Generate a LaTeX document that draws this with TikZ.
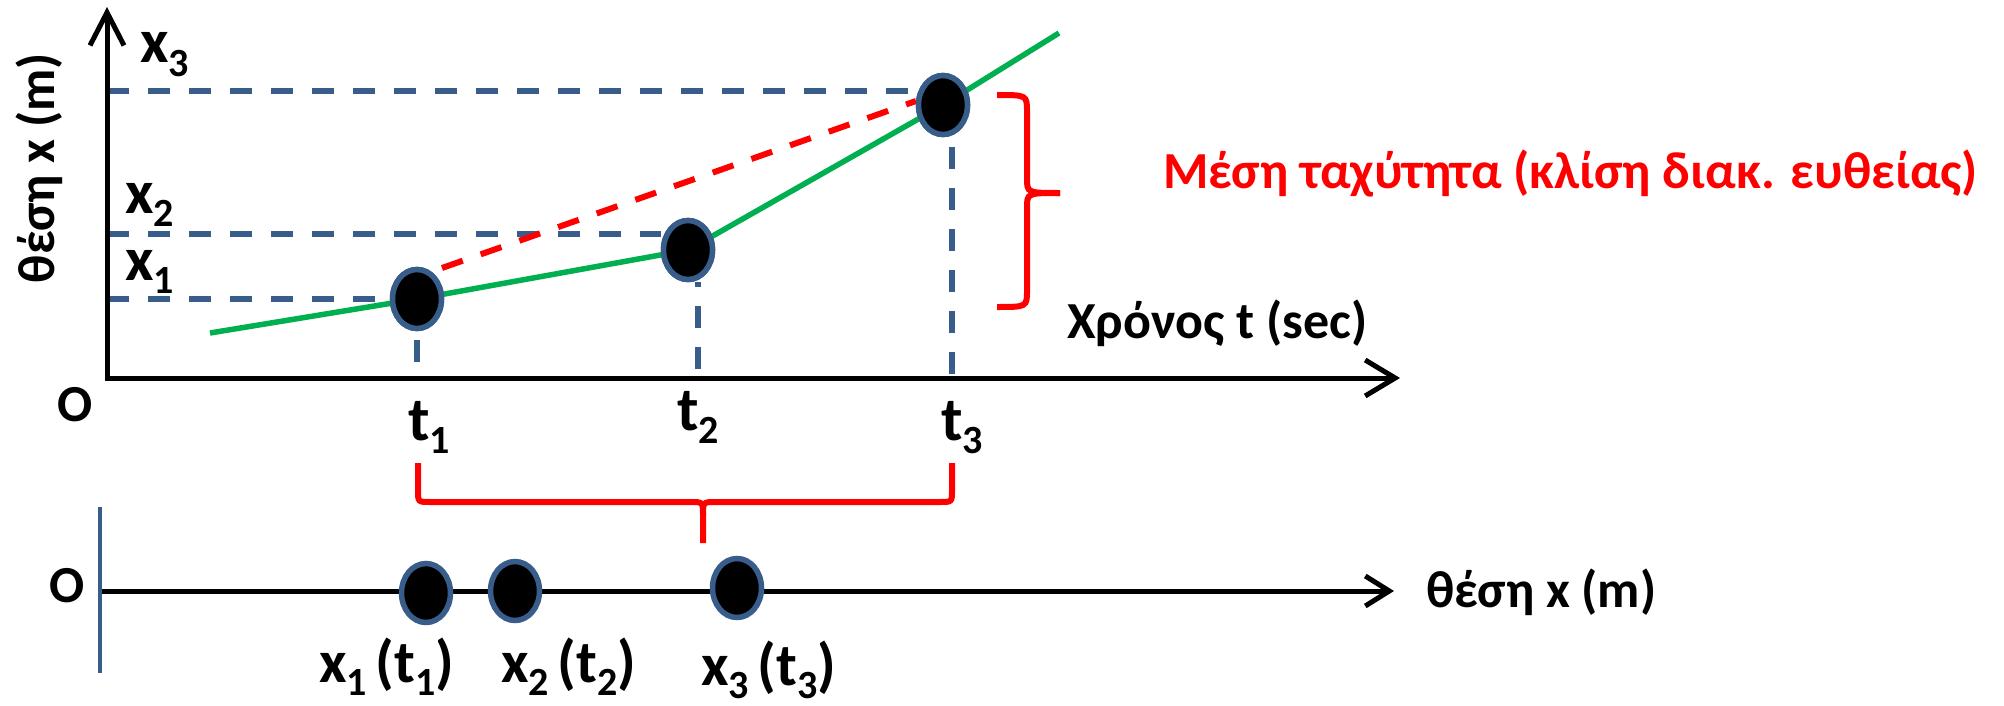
\documentclass[tikz,border=0pt]{standalone}
\usepackage{fontspec}
\setmainfont{Carlito}
\usetikzlibrary{arrows.meta,shapes.geometric,calc}
\definecolor{dblue}{HTML}{385D8A}
\definecolor{pgreen}{HTML}{00B050}
\definecolor{pred}{HTML}{FF0000}
\newcommand\sbs[1]{\raisebox{-0.22em}{\fontsize{40}{44}\selectfont #1}}
\begin{document}
\begin{tikzpicture}[x=1pt,y=-1pt,
  lbl/.style={font=\fontsize{62}{70}\selectfont\bfseries, inner sep=0pt, anchor=base west},
  blbl/.style={font=\fontsize{60}{68}\selectfont\bfseries, inner sep=0pt, anchor=base west},
  txt/.style={font=\fontsize{52}{60}\selectfont\bfseries, inner sep=0pt},
  dotnode/.style={ellipse, draw=dblue, line width=5.5pt, fill=black, minimum width=49pt, minimum height=59pt, inner sep=0pt},
  axisline/.style={line width=5pt, black, line join=miter},
  guide/.style={draw=dblue, line width=5.5pt, dash pattern=on 22pt off 19pt},
  greenline/.style={draw=pgreen, line width=5.5pt},
  reddash/.style={draw=pred, line width=6pt, dash pattern=on 22pt off 19pt},
  bracestyle/.style={draw=pred, line width=6pt},
]
\fill[white] (0,0) rectangle (2004,706);
\useasboundingbox (0,0) rectangle (2004,706);

% ---------- top graph ----------
\coordinate (O) at (107,378);
\coordinate (yend) at (107,7);
\coordinate (xend) at (1400,378);
\coordinate (ya1) at (107,299);
\coordinate (ya2) at (107,234);
\coordinate (ya3) at (107,91);
\coordinate (f1) at (417,378);
\coordinate (f2) at (698,378);
\coordinate (f3) at (952,378);
\coordinate (g0) at (210,333);
\coordinate (g4) at (1059,33);
\coordinate (r1) at (442,268);
\coordinate (r3) at (916,101);

% dot nodes (placed first to get anchors, drawn again on top)
\path (417,299) node[dotnode] (d1) {};
\path (688,250) node[dotnode] (d2) {};
\path (943,105) node[dotnode] (d3) {};

% guide lines
\draw[guide] (ya1) -- (d1);
\draw[guide] (ya2) -- (d2.west |- ya2);
\draw[guide] (ya3) -- ($(d3.west |- ya3)+(-8,0)$);
\draw[guide, dash phase=32pt] (d1.south) -- (f1);
\draw[guide, dash phase=17pt] (d2.south -| f2) -- (f2);
\draw[guide, dash phase=31pt] (d3.south -| f3) -- (f3);

% curve and chord
\draw[greenline] (g0) -- (d1.center) -- (d2.center) -- (d3.center) -- (g4);
\draw[reddash] (r1) -- (r3);

% dots on top
\path (417,299) node[dotnode] {};
\path (688,250) node[dotnode] {};
\path (943,105) node[dotnode] {};

% axes
\draw[axisline, {Straight Barb[length=33pt,width=34pt]}-{Straight Barb[length=30pt,width=36pt]}] (yend) -- (O) -- (xend);

% labels
\node[txt] (o1) at (75,405) {O};
\node[txt, rotate=90] (ylab) at (39,168) {θέση x (m)};
\node[lbl] (lx3) at (140,63) {x\sbs{3}};
\node[lbl] (lx2) at (125,213) {x\sbs{2}};
\node[lbl] (lx1) at (125,280) {x\sbs{1}};
\node[lbl] (lt1) at (408,440) {t\sbs{1}};
\node[lbl] (lt2) at (677,430) {t\sbs{2}};
\node[lbl] (lt3) at (941,440) {t\sbs{3}};
\node[txt, anchor=base west] (xlab) at (1067,338) {Χρόνος t (sec)};
\node[txt, anchor=base west, text=pred] (vlab) at (1163,188) {Μέση ταχύτητα (κλίση διακ. ευθείας)};

% right brace
\draw[bracestyle] (997,95) .. controls (1027,95) .. (1027,112) -- (1027,178)
  .. controls (1027,193) .. (1060,193);
\draw[bracestyle] (1060,193) .. controls (1027,193) .. (1027,208) -- (1027,290)
  .. controls (1027,307) .. (997,307);

% ---------- bottom line ----------
\coordinate (bO) at (102,591);
\coordinate (bend) at (1394,591);
\coordinate (bv1) at (100,507);
\coordinate (bv2) at (100,673);
\draw[line width=5pt, -{Straight Barb[length=24pt,width=30pt]}] (bO) -- (bend);
\draw[dblue, line width=3.5pt] (bv1) -- (bv2);
\node[dotnode] (b1) at (426,593) {};
\node[dotnode] (b2) at (515,591) {};
\node[dotnode] (b3) at (737,588) {};
\node[txt] (o2) at (67,586) {O};
\node[txt, anchor=base west] (plab) at (1426,607) {θέση x (m)};
\node[blbl] (bl1) at (319,682) {x\sbs{1}\hspace{-0.08em} (t\sbs{1})};
\node[blbl] (bl2) at (501,682) {x\sbs{2}\hspace{-0.08em} (t\sbs{2})};
\node[blbl] (bl3) at (701,685) {x\sbs{3}\hspace{-0.08em} (t\sbs{3})};

% bottom brace
\draw[bracestyle] (418,463) -- (418,490) .. controls (418,502) .. (430,502) -- (690,502)
  .. controls (703,502) .. (703,515) -- (703,543);
\draw[bracestyle] (703,515) .. controls (703,502) .. (716,502) -- (940,502)
  .. controls (952,502) .. (952,490) -- (952,463);
\end{tikzpicture}
\end{document}
